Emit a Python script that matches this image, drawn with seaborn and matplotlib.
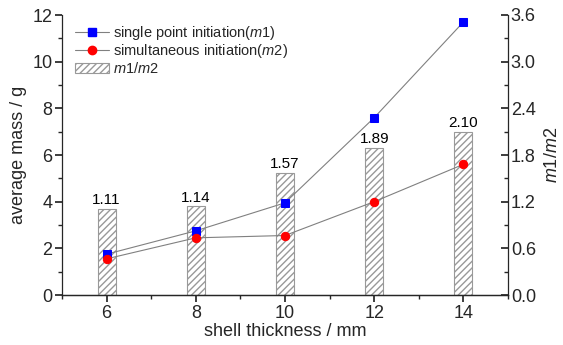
import matplotlib
matplotlib.use("Agg")
import matplotlib.pyplot as plt
import seaborn as sns
import numpy as np
import pandas as pd
from matplotlib.patches import Patch
from matplotlib.lines import Line2D
from matplotlib.ticker import MultipleLocator, FormatStrFormatter

thickness = [6, 8, 10, 12, 14]
m1 = [1.75, 2.75, 3.95, 7.6, 11.7]
m2 = [1.55, 2.45, 2.55, 4.0, 5.6]
ratio = [1.11, 1.14, 1.57, 1.89, 2.10]
ratio_labels = ["1.11", "1.14", "1.57", "1.89", "2.10"]

sns.set_theme(style="ticks")
fam = ["Liberation Sans Narrow", "Liberation Sans", "DejaVu Sans"]
plt.rcParams["font.family"] = fam
plt.rcParams["mathtext.fontset"] = "custom"
plt.rcParams["mathtext.it"] = "Liberation Sans:italic"
plt.rcParams["mathtext.rm"] = "Liberation Sans"

fig = plt.figure(figsize=(5.63, 3.45), dpi=100)
ax1 = fig.add_axes([62/563, 50/345, 446/563, 280/345])
ax2 = ax1.twinx()

df_bar = pd.DataFrame({"t": thickness, "r": ratio})
ax2.bar(df_bar["t"], df_bar["r"], width=0.4, color="white", edgecolor="#999999",
        hatch="/////", linewidth=0.8)
for x, r, lab in zip(thickness, ratio, ratio_labels):
    ax2.text(x, r + 0.02, lab, ha="center", va="bottom", fontsize=11, color="black")
ax2.set_ylim(0, 3.6)
ax2.yaxis.set_major_locator(MultipleLocator(0.6))
ax2.yaxis.set_minor_locator(MultipleLocator(0.3))
ax2.yaxis.set_major_formatter(FormatStrFormatter("%.1f"))
ax2.tick_params(axis="y", which="major", direction="in", length=5, labelsize=13, pad=2)
ax2.tick_params(axis="y", which="minor", direction="in", length=3)
ax2.set_ylabel("$m$1/$m$2", fontsize=13, labelpad=6)

df = pd.DataFrame({"t": thickness, "m1": m1, "m2": m2})
sns.lineplot(data=df, x="t", y="m1", ax=ax1, color="#808080", linewidth=0.8,
             marker="s", markersize=6, markerfacecolor="#0000ff", markeredgecolor="#0000ff")
sns.lineplot(data=df, x="t", y="m2", ax=ax1, color="#808080", linewidth=0.8,
             marker="o", markersize=6, markerfacecolor="#ff0000", markeredgecolor="#ff0000")
ax1.set_zorder(ax2.get_zorder() + 1)
ax1.patch.set_visible(False)

ax1.set_xlim(5, 15)
ax1.set_ylim(0, 12)
ax1.set_xticks(thickness)
ax1.xaxis.set_minor_locator(MultipleLocator(1))
ax1.yaxis.set_major_locator(MultipleLocator(2))
ax1.yaxis.set_minor_locator(MultipleLocator(1))
ax1.tick_params(axis="both", which="major", direction="out", length=5, labelsize=13, pad=2)
ax1.tick_params(axis="both", which="minor", direction="out", length=3)
ax1.set_xlabel("shell thickness / mm", fontsize=13, labelpad=1)
ax1.set_ylabel("average mass / g", fontsize=13, labelpad=4)

for a in (ax1, ax2):
    a.spines["top"].set_visible(False)
    for s in a.spines.values():
        s.set_linewidth(0.9)
ax2.spines["left"].set_visible(False)
ax1.spines["right"].set_visible(False)

handles = [
    Line2D([], [], color="#808080", lw=0.8, marker="s", markersize=6,
           markerfacecolor="#0000ff", markeredgecolor="#0000ff"),
    Line2D([], [], color="#808080", lw=0.8, marker="o", markersize=6,
           markerfacecolor="#ff0000", markeredgecolor="#ff0000"),
    Patch(facecolor="white", edgecolor="#999999", hatch="/////", linewidth=0.8),
]
labels = ["single point initiation($m$1)", "simultaneous initiation($m$2)", "$m$1/$m$2"]
ax1.legend(handles, labels, loc="upper left", bbox_to_anchor=(0.01, 1.0), frameon=False,
           fontsize=10.5, handlelength=2.3, labelspacing=0.05, borderaxespad=0.2,
           handletextpad=0.3)

fig.savefig("out.png", dpi=100)
